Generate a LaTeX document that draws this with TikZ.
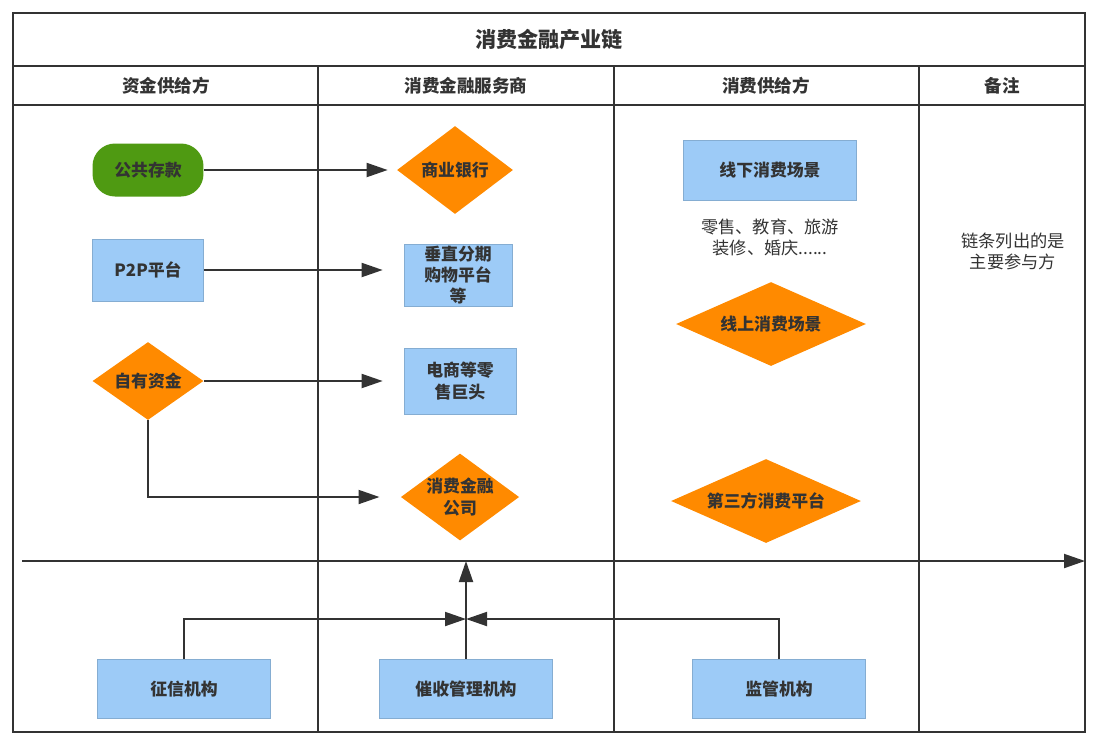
\documentclass[tikz,border=0pt]{standalone}
\usepackage{fontspec}
\setmainfont{Noto Sans CJK SC}
\usetikzlibrary{positioning,arrows.meta,shapes.geometric}
\definecolor{lineGray}{HTML}{333333}
\definecolor{boxBlue}{HTML}{9DCBF7}
\definecolor{boxOrange}{HTML}{FF8A00}
\definecolor{boxGreen}{HTML}{4F9A12}
\tikzset{
  flowarrow/.style={-{Triangle[length=4.2mm,width=2.8mm]}, line width=1.1pt, lineGray},
  gridline/.style={line width=1.1pt, lineGray},
  headtext/.style={font=\fontsize{10}{12}\selectfont\bfseries, text=lineGray},
  bluebox/.style={draw=boxBlue!85!black, line width=0.4pt, fill=boxBlue, align=center, inner sep=0pt,
    font=\fontsize{9.6}{12}\selectfont\bfseries, text=lineGray},
  greenbox/.style={fill=boxGreen, rounded corners=0.45cm, align=center, inner sep=0pt,
    font=\fontsize{9.6}{12}\selectfont\bfseries, text=black!80},
  orangediamond/.style={diamond, fill=boxOrange, align=center, inner sep=0pt,
    font=\fontsize{9.6}{12}\selectfont\bfseries, text=lineGray},
  notetext/.style={align=center, font=\fontsize{9.8}{12}\selectfont, text=lineGray}
}
\begin{document}
\begin{tikzpicture}[x=0.02cm, y=-0.02cm]
  \useasboundingbox (0,0) rectangle (1094,745);
  % frame and lanes
  \draw[gridline, line width=1.4pt] (13,13) rectangle (1085,732);
  \draw[gridline] (13,66) -- (1085,66);
  \draw[gridline] (13,105) -- (1085,105);
  \foreach \xx in {318,614,919} \draw[gridline] (\xx,66) -- (\xx,732);
  \node[headtext, font=\fontsize{12}{14}\selectfont\bfseries] (title) at (549,40) {消费金融产业链};
  \node[headtext] (hsupply) at (166,86) {资金供给方};
  \node[headtext] (hservice) at (466,86) {消费金融服务商};
  \node[headtext] (hconsume) at (766,86) {消费供给方};
  \node[headtext] (hnote) at (1002,86) {备注};

  % funding side
  \node[greenbox, minimum width=2.22cm, minimum height=1.06cm] (deposit) at (148,170) {公共存款};
  \node[bluebox, minimum width=2.22cm, minimum height=1.24cm] (ptp) at (148,270) {P2P平台};
  \node[orangediamond, aspect=1.42, minimum width=2.22cm, minimum height=1.56cm] (own) at (148,381) {自有资金};

  % service side
  \node[orangediamond, aspect=1.32, minimum width=2.32cm, minimum height=1.76cm] (bank) at (455,170) {商业银行};
  \node[bluebox, minimum width=2.16cm, minimum height=1.24cm] (vert) at (458,275) {垂直分期\\购物平台\\等};
  \node[bluebox, minimum width=2.24cm, minimum height=1.32cm] (ecom) at (460,381) {电商等零\\售巨头};
  \node[orangediamond, aspect=1.36, minimum width=2.26cm, minimum height=1.66cm] (cfc) at (460,497) {消费金融\\公司};

  % consumption side
  \node[bluebox, minimum width=3.46cm, minimum height=1.2cm] (offline) at (770,170) {线下消费场景};
  \node[notetext] (scenes) at (770,237) {零售、教育、旅游\\装修、婚庆......};
  \node[orangediamond, aspect=2.26, minimum width=3.8cm, minimum height=1.68cm] (online) at (771,324) {线上消费场景};
  \node[orangediamond, aspect=2.26, minimum width=3.8cm, minimum height=1.68cm] (third) at (766,501) {第三方消费平台};

  % remark
  \node[notetext] (remark) at (1013,251) {链条列出的是\\主要参与方};

  % supporting bodies
  \node[bluebox, minimum width=3.46cm, minimum height=1.18cm] (credit) at (184,689) {征信机构};
  \node[bluebox, minimum width=3.46cm, minimum height=1.18cm] (collect) at (466,689) {催收管理机构};
  \node[bluebox, minimum width=3.46cm, minimum height=1.18cm] (reg) at (779,689) {监管机构};

  % flows
  \draw[flowarrow, shorten >=1.8mm] (deposit) -- (bank);
  \draw[flowarrow, shorten >=4.2mm] (ptp) -- (ptp -| vert.west);
  \draw[flowarrow, shorten >=4.2mm] (own) -- (own -| ecom.west);
  \draw[flowarrow, shorten >=4.2mm] (own.south) |- (cfc.west);

  \coordinate (axisL) at (22,561);
  \coordinate (axisR) at (1085,561);
  \draw[flowarrow] (axisL) -- (axisR);
  \draw[flowarrow] (collect.north) -- (collect.north |- axisR);
  \coordinate (meet) at (466,619);
  \draw[flowarrow] (credit.north) |- (meet);
  \draw[flowarrow] (reg.north) |- (meet);
\end{tikzpicture}
\end{document}
